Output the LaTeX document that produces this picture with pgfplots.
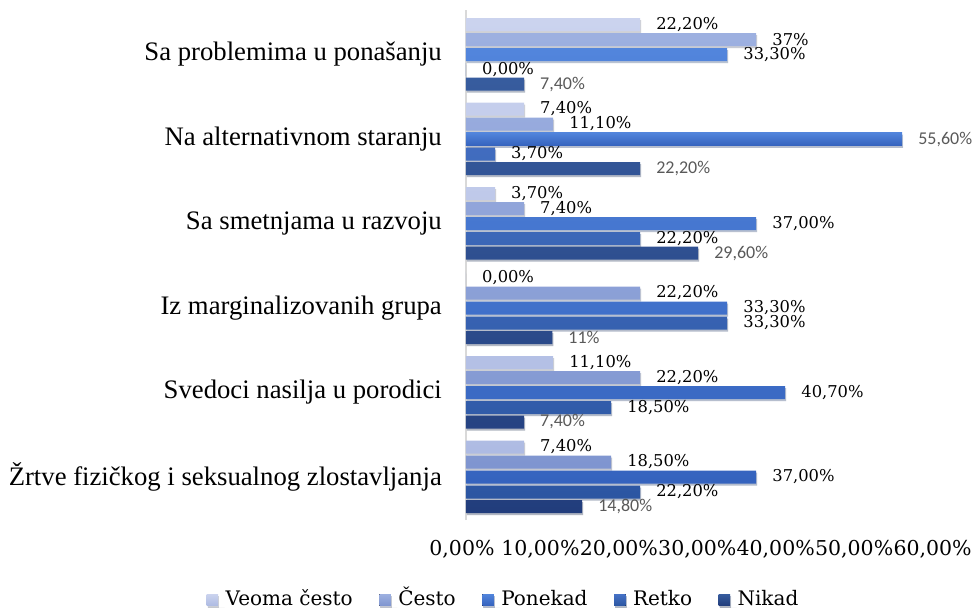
\documentclass[border=0pt]{standalone}
\usepackage{pgfplots}
\pgfplotsset{compat=1.18}
\usetikzlibrary{shadows}
\usepackage{fontspec}
\setmainfont{DejaVu Serif}
\newfontfamily\catfont{Liberation Serif}
\newfontfamily\numfont{DejaVu Serif}
\newfontfamily\calfont{Carlito}
\definecolor{c1t}{HTML}{CBD3EE}\definecolor{c1b}{HTML}{AEBBE3}
\definecolor{c2t}{HTML}{9DB0E0}\definecolor{c2b}{HTML}{7F95D0}
\definecolor{c3t}{HTML}{5285DC}\definecolor{c3b}{HTML}{3563BE}
\definecolor{c4t}{HTML}{4672C6}\definecolor{c4b}{HTML}{2C56A2}
\definecolor{c5t}{HTML}{375C9E}\definecolor{c5b}{HTML}{223D7C}
\begin{document}
\begin{tikzpicture}[x=1pt,y=1pt]
\useasboundingbox (0,0) rectangle (980,-611);
\begin{axis}[
  at={(466pt,-520pt)}, anchor=south west,
  scale only axis, width=470.6pt, height=510pt,
  xmin=0, xmax=60, ymin=-0.509, ymax=5.527,
  clip=false,
  xbar, bar width=13pt,
  axis lines=left,
  axis line style={-},
  x axis line style={draw=none},
  y axis line style={draw=black!15, line width=1.5pt},
  major tick length=0pt,
  xtick={0,10,...,60},
  xticklabels={{0,00\%},{10,00\%},{20,00\%},{30,00\%},{40,00\%},{50,00\%},{60,00\%}},
  xticklabel style={font=\numfont\fontsize{20.5}{24}\selectfont, anchor=base, inner sep=0pt, yshift=-35pt, xshift=-4pt},
  ytick={0,1,2,3,4,5},
  yticklabels={{Žrtve fizičkog i seksualnog zlostavljanja},{Svedoci nasilja u porodici},{Iz marginalizovanih grupa},{Sa smetnjama u razvoju},{Na alternativnom staranju},{Sa problemima u ponašanju}},
  yticklabel style={font=\catfont\fontsize{26.7}{30}\selectfont, anchor=east, inner sep=0pt, xshift=-24pt},
  point meta=explicit symbolic,
  nodes near coords={\pgfplotspointmeta\%},
  every node near coord/.append style={anchor=west, inner sep=0pt, xshift=16pt, font=\numfont\fontsize{16.3}{18}\selectfont, text=black},
  legend columns=5,
  legend style={at={(axis description cs:0.0797,-0.1745)}, anchor=south, draw=none, fill=none,
    inner sep=0pt, outer sep=0pt,
    font=\numfont\fontsize{20}{24}\selectfont,
    /tikz/every even column/.append style={column sep=24.5pt},
    cells={anchor=base west, inner sep=0pt}},
  legend image code/.code={\fill[#1, draw=none] (0pt,0pt) rectangle (11.5pt,11.5pt); \path (0pt,0pt) -- (17pt,0pt);},
  sh/.style={drop shadow={shadow xshift=1pt, shadow yshift=-2pt, fill=black, opacity=0.18}},
]
\addplot[draw=none, top color=c1t, bottom color=c1b, bar shift=30pt, sh] table[x=v, y=c, meta=l] {
c v l
0 7.4 7,40
1 11.1 11,10
2 0.0 0,00
3 3.7 3,70
4 7.4 7,40
5 22.2 22,20
};
\addlegendentry{Veoma često}
\addplot[draw=none, top color=c2t, bottom color=c2b, bar shift=15pt, sh] table[x=v, y=c, meta=l] {
c v l
0 18.5 18,50
1 22.2 22,20
2 22.2 22,20
3 7.4 7,40
4 11.1 11,10
5 37.0 37
};
\addlegendentry{Često}
\addplot[draw=none, top color=c3t, bottom color=c3b, bar shift=0pt, sh] table[x=v, y=c, meta=l] {
c v l
0 37.0 37,00
1 40.7 40,70
2 33.3 33,30
3 37.0 37,00
5 33.3 33,30
};
\addlegendentry{Ponekad}
\addplot[draw=none, top color=c4t, bottom color=c4b, bar shift=-15pt, sh] table[x=v, y=c, meta=l] {
c v l
0 22.2 22,20
1 18.5 18,50
2 33.3 33,30
3 22.2 22,20
4 3.7 3,70
5 0.0 0,00
};
\addlegendentry{Retko}
\addplot[draw=none, top color=c5t, bottom color=c5b, bar shift=-29.5pt, sh,
  every node near coord/.append style={font=\calfont\fontsize{18}{20}\selectfont, text=black!65}] table[x=v, y=c, meta=l] {
c v l
0 14.8 14,80
1 7.4 7,40
2 11.0 11
3 29.6 29,60
4 22.2 22,20
5 7.4 7,40
};
\addlegendentry{Nikad}
\addplot[forget plot, draw=none, top color=c3t, bottom color=c3b, bar shift=0pt, sh,
  every node near coord/.append style={font=\calfont\fontsize{18}{20}\selectfont, text=black!65}] table[x=v, y=c, meta=l] {
c v l
4 55.6 55,60
};
\end{axis}
\end{tikzpicture}
\end{document}
